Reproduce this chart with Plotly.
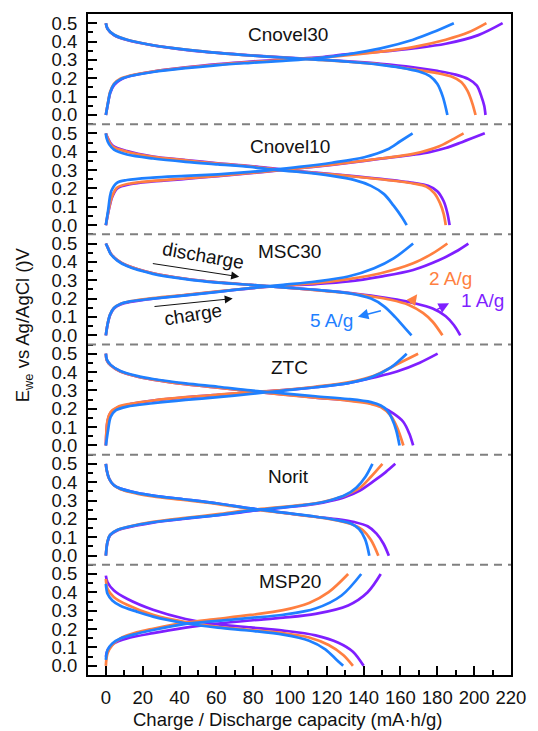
import plotly.graph_objects as go

# ---------------- data (capacity q in mA·h/g, potential v in V) ----------------
panel_names = ["Cnovel30", "Cnovel10", "MSC30", "ZTC", "Norit", "MSP20"]
panel_offsets = [3.0, 2.4, 1.8, 1.2, 0.6, 0.0]
rate_names = ["1 A/g", "2 A/g", "5 A/g"]
rate_colors = ["#7f1fff", "#ff7f40", "#1f80ff"]

x_tickvals = [0, 20, 40, 60, 80, 100, 120, 140, 160, 180, 200, 220]
y_ticktext = ["0.0", "0.1", "0.2", "0.3", "0.4", "0.5"]
y_tick_steps = [0.0, 0.1, 0.2, 0.3, 0.4, 0.5]

# Cnovel30
c30_ch_1A_q = [0, 1.2, 2.3, 4.4, 7.9, 13.2, 25.6, 43.3, 61, 78.6, 96.3, 114, 131.6, 149.3, 166.9, 184.6, 202.3, 215.5]
c30_ch_1A_v = [0, 0.065, 0.118, 0.163, 0.192, 0.212, 0.236, 0.259, 0.277, 0.291, 0.302, 0.313, 0.331, 0.345, 0.363, 0.388, 0.435, 0.5]
c30_ch_2A_q = [0, 1.2, 2.3, 4.4, 7.9, 13.2, 25.6, 43.3, 61, 78.6, 96.3, 114, 131.6, 149.3, 166.9, 184.6, 197, 206.7]
c30_ch_2A_v = [0, 0.07, 0.125, 0.17, 0.197, 0.215, 0.237, 0.258, 0.275, 0.288, 0.299, 0.31, 0.326, 0.345, 0.37, 0.41, 0.45, 0.5]
c30_ch_5A_q = [0, 1.2, 2.3, 4.4, 7.9, 13.2, 25.6, 43.3, 61, 78.6, 96.3, 114, 131.6, 149.3, 166.9, 177.5, 189]
c30_ch_5A_v = [0, 0.068, 0.122, 0.167, 0.194, 0.212, 0.234, 0.255, 0.272, 0.284, 0.295, 0.308, 0.331, 0.363, 0.41, 0.45, 0.5]
c30_dis_1A_q = [0, 0.9, 4.4, 11.5, 25.6, 43.3, 61, 78.6, 96.3, 114, 131.6, 149.3, 166.9, 180, 190, 197, 201.5, 204, 205.5, 206.2]
c30_dis_1A_v = [0.5, 0.47, 0.435, 0.408, 0.379, 0.355, 0.338, 0.325, 0.314, 0.304, 0.292, 0.279, 0.26, 0.24, 0.22, 0.195, 0.16, 0.1, 0.05, 0]
c30_dis_2A_q = [0, 0.9, 4.4, 11.5, 25.6, 43.3, 61, 78.6, 96.3, 114, 131.6, 149.3, 166.9, 180, 188, 193, 196.5, 199, 200.8]
c30_dis_2A_v = [0.5, 0.47, 0.437, 0.41, 0.38, 0.356, 0.338, 0.324, 0.313, 0.302, 0.29, 0.275, 0.248, 0.228, 0.208, 0.18, 0.13, 0.065, 0]
c30_dis_5A_q = [0, 0.9, 4.4, 11.5, 25.6, 43.3, 61, 78.6, 96.3, 114, 131.6, 149.3, 160, 170, 176, 180, 183, 185.5]
c30_dis_5A_v = [0.5, 0.47, 0.437, 0.41, 0.38, 0.356, 0.338, 0.324, 0.313, 0.302, 0.29, 0.273, 0.258, 0.237, 0.212, 0.17, 0.1, 0]

# Cnovel10
c10_ch_1A_q = [0, 1.8, 3.5, 6.2, 13.2, 25.6, 43.3, 60.9, 78.6, 96.3, 113.9, 131.6, 149.3, 166.9, 175.8, 184.6, 193.4, 205.8]
c10_ch_1A_v = [0, 0.092, 0.155, 0.2, 0.223, 0.238, 0.252, 0.267, 0.283, 0.301, 0.319, 0.339, 0.362, 0.384, 0.398, 0.42, 0.452, 0.5]
c10_ch_2A_q = [0, 1.8, 3.5, 6.2, 13.2, 25.6, 43.3, 60.9, 78.6, 96.3, 113.9, 131.6, 149.3, 166.9, 181.1, 188.1, 194.3]
c10_ch_2A_v = [0, 0.097, 0.16, 0.205, 0.227, 0.241, 0.254, 0.268, 0.284, 0.302, 0.32, 0.34, 0.363, 0.388, 0.43, 0.466, 0.5]
c10_ch_5A_q = [0, 1.2, 3, 6.2, 11.5, 25.6, 43.3, 60.9, 78.6, 89.2, 105.1, 122.8, 140.4, 152.8, 159.9, 166.6]
c10_ch_5A_v = [0, 0.079, 0.187, 0.232, 0.246, 0.259, 0.268, 0.277, 0.29, 0.3, 0.317, 0.34, 0.37, 0.412, 0.457, 0.5]
c10_dis_1A_q = [0, 0.9, 3.5, 11.5, 25.6, 43.3, 60.9, 78.6, 96.3, 113.9, 131.6, 149.3, 166.9, 175, 180, 183.5, 185.5, 186.7]
c10_dis_1A_v = [0.5, 0.478, 0.435, 0.403, 0.374, 0.355, 0.337, 0.322, 0.302, 0.286, 0.27, 0.252, 0.23, 0.214, 0.185, 0.13, 0.065, 0]
c10_dis_2A_q = [0, 0.9, 3.5, 11.5, 25.6, 43.3, 60.9, 78.6, 96.3, 113.9, 131.6, 149.3, 166.9, 174, 178.4, 181.5, 183.5, 184.6]
c10_dis_2A_v = [0.5, 0.475, 0.43, 0.4, 0.372, 0.353, 0.335, 0.32, 0.3, 0.284, 0.268, 0.25, 0.227, 0.21, 0.175, 0.12, 0.06, 0]
c10_dis_5A_q = [0, 0.35, 1.8, 4.4, 11.5, 25.6, 43.3, 60.9, 78.6, 89.2, 105.1, 122.8, 135.2, 144, 151.1, 156.3, 160.8, 163.4]
c10_dis_5A_v = [0.5, 0.475, 0.44, 0.412, 0.385, 0.363, 0.345, 0.331, 0.317, 0.304, 0.29, 0.268, 0.245, 0.214, 0.169, 0.106, 0.043, 0]

# MSC30
msc_ch_1A_q = [0, 0.9, 2.3, 4.4, 7.9, 13.2, 25.6, 43.3, 60.9, 78.6, 96.3, 113.9, 131.6, 149.3, 166.9, 181.1, 189.9, 196.9]
msc_ch_1A_v = [0, 0.057, 0.11, 0.146, 0.168, 0.182, 0.2, 0.219, 0.238, 0.256, 0.27, 0.279, 0.293, 0.32, 0.356, 0.41, 0.455, 0.5]
msc_ch_2A_q = [0, 0.9, 2.3, 4.4, 7.9, 13.2, 25.6, 43.3, 60.9, 78.6, 96.3, 113.9, 131.6, 149.3, 166.9, 177.5, 185.5]
msc_ch_2A_v = [0, 0.059, 0.113, 0.149, 0.171, 0.185, 0.203, 0.221, 0.239, 0.257, 0.272, 0.284, 0.306, 0.338, 0.392, 0.446, 0.5]
msc_ch_5A_q = [0, 0.9, 2.3, 4.4, 7.9, 13.2, 25.6, 43.3, 60.9, 78.6, 96.3, 113.9, 131.6, 145.7, 156.3, 166.9]
msc_ch_5A_v = [0, 0.059, 0.113, 0.149, 0.171, 0.185, 0.2, 0.218, 0.237, 0.257, 0.275, 0.293, 0.32, 0.365, 0.419, 0.5]
msc_dis_1A_q = [0, 0.9, 2.6, 6.2, 11.5, 25.6, 43.3, 60.9, 78.6, 96.3, 113.9, 131.6, 144, 158.1, 166.9, 177.5, 184.6, 189, 192.5]
msc_dis_1A_v = [0.5, 0.482, 0.446, 0.41, 0.38, 0.338, 0.308, 0.288, 0.275, 0.261, 0.247, 0.232, 0.216, 0.194, 0.176, 0.146, 0.104, 0.056, 0]
msc_dis_2A_q = [0, 0.9, 2.6, 6.2, 11.5, 25.6, 43.3, 60.9, 78.6, 96.3, 113.9, 131.6, 144, 154.6, 164.3, 172.2, 177.5, 182.8]
msc_dis_2A_v = [0.5, 0.482, 0.446, 0.41, 0.38, 0.338, 0.308, 0.288, 0.275, 0.261, 0.246, 0.23, 0.212, 0.194, 0.167, 0.122, 0.074, 0]
msc_dis_5A_q = [0, 0.9, 2.6, 6.2, 11.5, 25.6, 43.3, 60.9, 78.6, 96.3, 113.9, 131.6, 144, 151.1, 157.2, 162, 166]
msc_dis_5A_v = [0.5, 0.48, 0.443, 0.407, 0.377, 0.335, 0.306, 0.287, 0.275, 0.261, 0.248, 0.23, 0.2, 0.158, 0.099, 0.045, 0]

# ZTC
ztc_ch_1A_q = [0, 0.9, 2.6, 6.2, 13.2, 25.6, 43.3, 60.9, 78.6, 96.3, 113.9, 131.6, 145.7, 158.1, 170.5, 180.2]
ztc_ch_1A_v = [0, 0.13, 0.178, 0.206, 0.225, 0.244, 0.262, 0.276, 0.289, 0.301, 0.318, 0.34, 0.371, 0.403, 0.451, 0.5]
ztc_ch_2A_q = [0, 0.9, 2.6, 6.2, 13.2, 25.6, 43.3, 60.9, 78.6, 96.3, 113.9, 131.6, 145.7, 158.1, 169.6]
ztc_ch_2A_v = [0, 0.137, 0.182, 0.209, 0.227, 0.245, 0.263, 0.277, 0.29, 0.302, 0.32, 0.344, 0.38, 0.442, 0.5]
ztc_ch_5A_q = [0, 1.2, 2.6, 5.3, 11.5, 25.6, 43.3, 60.9, 78.6, 96.3, 113.9, 131.6, 144, 154.6, 163.4]
ztc_ch_5A_v = [0, 0.083, 0.155, 0.191, 0.212, 0.23, 0.248, 0.263, 0.281, 0.299, 0.317, 0.34, 0.371, 0.424, 0.5]
ztc_dis_1A_q = [0, 0.5, 2.6, 7.9, 16.8, 25.6, 43.3, 60.9, 78.6, 96.3, 113.9, 131.6, 144, 149.3, 156.3, 161.6, 164.8, 166.9]
ztc_dis_1A_v = [0.5, 0.465, 0.437, 0.403, 0.376, 0.359, 0.334, 0.315, 0.295, 0.278, 0.261, 0.246, 0.23, 0.212, 0.173, 0.128, 0.065, 0]
ztc_dis_2A_q = [0, 0.5, 2.6, 7.9, 16.8, 25.6, 43.3, 60.9, 78.6, 96.3, 113.9, 131.6, 144, 149.3, 154.6, 158.1, 161.6]
ztc_dis_2A_v = [0.5, 0.465, 0.437, 0.403, 0.376, 0.359, 0.334, 0.315, 0.295, 0.277, 0.26, 0.244, 0.226, 0.209, 0.164, 0.1, 0]
ztc_dis_5A_q = [0, 0.5, 2.6, 7.9, 16.8, 25.6, 43.3, 60.9, 78.6, 96.3, 113.9, 131.6, 144, 149.3, 152.8, 155.4, 157.7, 159.5]
ztc_dis_5A_v = [0.5, 0.469, 0.439, 0.406, 0.379, 0.362, 0.338, 0.32, 0.3, 0.284, 0.268, 0.253, 0.236, 0.218, 0.191, 0.146, 0.083, 0]

# Norit
nor_ch_1A_q = [0, 0.9, 2.3, 6.2, 16.8, 25.6, 43.3, 60.9, 78.6, 96.3, 113.9, 122, 130, 138, 146, 152, 157.2]
nor_ch_1A_v = [0, 0.074, 0.11, 0.137, 0.164, 0.18, 0.201, 0.22, 0.243, 0.262, 0.282, 0.298, 0.32, 0.355, 0.41, 0.455, 0.5]
nor_ch_2A_q = [0, 0.9, 2.3, 6.2, 16.8, 25.6, 43.3, 60.9, 78.6, 96.3, 113.9, 122, 130, 138, 144, 150.2]
nor_ch_2A_v = [0, 0.077, 0.113, 0.14, 0.168, 0.184, 0.206, 0.226, 0.249, 0.266, 0.285, 0.303, 0.328, 0.37, 0.43, 0.5]
nor_ch_5A_q = [0, 0.9, 2.3, 6.2, 16.8, 25.6, 43.3, 60.9, 78.6, 96.3, 113.9, 122, 130, 136, 141, 144.8]
nor_ch_5A_v = [0, 0.077, 0.113, 0.14, 0.167, 0.182, 0.203, 0.221, 0.245, 0.263, 0.284, 0.302, 0.33, 0.37, 0.43, 0.5]
nor_dis_1A_q = [0, 0.5, 1.8, 4.4, 7.9, 16.8, 25.6, 43.3, 60.9, 78.6, 96.3, 113.9, 126.3, 135, 142.2, 147, 150.8, 153.7]
nor_dis_1A_v = [0.5, 0.464, 0.419, 0.383, 0.365, 0.342, 0.327, 0.306, 0.284, 0.257, 0.234, 0.212, 0.198, 0.183, 0.16, 0.12, 0.065, 0]
nor_dis_2A_q = [0, 0.5, 1.8, 4.4, 7.9, 16.8, 25.6, 43.3, 60.9, 78.6, 96.3, 113.9, 126.3, 134, 139.5, 144, 148]
nor_dis_2A_v = [0.5, 0.464, 0.419, 0.383, 0.362, 0.338, 0.322, 0.302, 0.281, 0.255, 0.233, 0.211, 0.19, 0.17, 0.14, 0.085, 0]
nor_dis_5A_q = [0, 0.5, 1.8, 4.4, 7.9, 16.8, 25.6, 43.3, 60.9, 78.6, 96.3, 113.9, 126.3, 133, 137.5, 140.8, 143.1]
nor_dis_5A_v = [0.5, 0.464, 0.419, 0.383, 0.365, 0.342, 0.327, 0.306, 0.284, 0.257, 0.234, 0.212, 0.192, 0.175, 0.145, 0.09, 0]

# MSP20
msp_ch_1A_q = [0, 1.2, 4.4, 11.5, 25.6, 43.3, 60.9, 78.6, 96.3, 113.9, 131.6, 142.2, 149.3]
msp_ch_1A_v = [0.05, 0.09, 0.122, 0.149, 0.178, 0.208, 0.23, 0.247, 0.262, 0.283, 0.329, 0.401, 0.5]
msp_ch_2A_q = [0, 0.9, 3.5, 7.9, 16.8, 25.6, 43.3, 60.9, 78.6, 96.3, 110.4, 121, 131.6]
msp_ch_2A_v = [0, 0.068, 0.113, 0.149, 0.182, 0.202, 0.236, 0.256, 0.277, 0.303, 0.342, 0.401, 0.5]
msp_ch_5A_q = [0, 0.9, 3.5, 7.9, 16.8, 25.6, 43.3, 60.9, 78.6, 96.3, 113.9, 128, 138.7]
msp_ch_5A_v = [0.032, 0.086, 0.122, 0.149, 0.175, 0.195, 0.228, 0.245, 0.261, 0.278, 0.312, 0.383, 0.5]
msp_dis_1A_q = [0, 0.9, 4.4, 11.5, 25.6, 43.3, 60.9, 78.6, 96.3, 113.9, 126.3, 134.2, 140]
msp_dis_1A_v = [0.491, 0.455, 0.41, 0.365, 0.305, 0.255, 0.226, 0.209, 0.192, 0.166, 0.126, 0.077, 0]
msp_dis_2A_q = [0, 0.9, 4.4, 11.5, 25.6, 43.3, 60.9, 78.6, 96.3, 110.4, 121, 128.9, 134.2]
msp_dis_2A_v = [0.473, 0.419, 0.374, 0.333, 0.278, 0.238, 0.212, 0.195, 0.178, 0.154, 0.113, 0.059, 0]
msp_dis_5A_q = [0, 0.9, 3.5, 7.9, 16.8, 25.6, 43.3, 60.9, 78.6, 96.3, 110.4, 119.2, 125.4, 128.9]
msp_dis_5A_v = [0.446, 0.392, 0.356, 0.327, 0.295, 0.268, 0.232, 0.208, 0.191, 0.17, 0.137, 0.09, 0.032, 0]

# table the plot is built from: panel -> rate -> (charge q, charge v, discharge q, discharge v)
panels = [
    [(c30_ch_1A_q, c30_ch_1A_v, c30_dis_1A_q, c30_dis_1A_v),
     (c30_ch_2A_q, c30_ch_2A_v, c30_dis_2A_q, c30_dis_2A_v),
     (c30_ch_5A_q, c30_ch_5A_v, c30_dis_5A_q, c30_dis_5A_v)],
    [(c10_ch_1A_q, c10_ch_1A_v, c10_dis_1A_q, c10_dis_1A_v),
     (c10_ch_2A_q, c10_ch_2A_v, c10_dis_2A_q, c10_dis_2A_v),
     (c10_ch_5A_q, c10_ch_5A_v, c10_dis_5A_q, c10_dis_5A_v)],
    [(msc_ch_1A_q, msc_ch_1A_v, msc_dis_1A_q, msc_dis_1A_v),
     (msc_ch_2A_q, msc_ch_2A_v, msc_dis_2A_q, msc_dis_2A_v),
     (msc_ch_5A_q, msc_ch_5A_v, msc_dis_5A_q, msc_dis_5A_v)],
    [(ztc_ch_1A_q, ztc_ch_1A_v, ztc_dis_1A_q, ztc_dis_1A_v),
     (ztc_ch_2A_q, ztc_ch_2A_v, ztc_dis_2A_q, ztc_dis_2A_v),
     (ztc_ch_5A_q, ztc_ch_5A_v, ztc_dis_5A_q, ztc_dis_5A_v)],
    [(nor_ch_1A_q, nor_ch_1A_v, nor_dis_1A_q, nor_dis_1A_v),
     (nor_ch_2A_q, nor_ch_2A_v, nor_dis_2A_q, nor_dis_2A_v),
     (nor_ch_5A_q, nor_ch_5A_v, nor_dis_5A_q, nor_dis_5A_v)],
    [(msp_ch_1A_q, msp_ch_1A_v, msp_dis_1A_q, msp_dis_1A_v),
     (msp_ch_2A_q, msp_ch_2A_v, msp_dis_2A_q, msp_dis_2A_v),
     (msp_ch_5A_q, msp_ch_5A_v, msp_dis_5A_q, msp_dis_5A_v)],
]
panel_label_pos = [(99, 0.44), (100, 0.43), (100, 0.455), (100, 0.425), (99, 0.43), (100, 0.46)]

FONT = "Liberation Sans, Arial, sans-serif"
fig = go.Figure()

for p, rates in enumerate(panels):
    off = panel_offsets[p]
    for r, (cq, cv, dq, dv) in enumerate(rates):
        for qq, vv in ((cq, cv), (dq, dv)):
            fig.add_trace(go.Scatter(
                x=qq, y=[v + off for v in vv], mode="lines",
                line=dict(color=rate_colors[r], width=2.7, shape="spline", smoothing=0.9),
                showlegend=False, hoverinfo="skip"))

# ticks
y_tickvals, y_ticklabels, y_minor = [], [], []
for off in panel_offsets:
    for s, t in zip(y_tick_steps, y_ticktext):
        y_tickvals.append(off + s)
        y_ticklabels.append(t)
    for s in y_tick_steps:
        y_minor.append(off + s + 0.05)

shapes = []
for off in panel_offsets[:-1]:
    shapes.append(dict(type="line", xref="paper", x0=0, x1=1, yref="y",
                       y0=off - 0.05, y1=off - 0.05,
                       line=dict(color="#808080", width=2, dash="8px,6px")))

annotations = []
for name, off, (lx, ly) in zip(panel_names, panel_offsets, panel_label_pos):
    annotations.append(dict(x=lx, y=off + ly, xref="x", yref="y", text=name, showarrow=False,
                            font=dict(family=FONT, size=19, color="#111111")))

msc = panel_offsets[2]
# charge / discharge labels + arrows
annotations += [
    dict(x=52.5, y=msc + 0.434, xref="x", yref="y", text="discharge", textangle=10,
         showarrow=False, font=dict(family=FONT, size=19, color="#111111")),
    dict(x=47.2, y=msc + 0.114, xref="x", yref="y", text="charge", textangle=-9,
         showarrow=False, font=dict(family=FONT, size=19, color="#111111")),
    dict(x=72.4, y=msc + 0.319, ax=24.7, ay=msc + 0.392, xref="x", yref="y", axref="x", ayref="y",
         text="", showarrow=True, arrowhead=2, arrowsize=1.6, arrowwidth=1, arrowcolor="#111111"),
    dict(x=68.9, y=msc + 0.2, ax=25.6, ay=msc + 0.156, xref="x", yref="y", axref="x", ayref="y",
         text="", showarrow=True, arrowhead=2, arrowsize=1.6, arrowwidth=1, arrowcolor="#111111"),
]
rate_label_pos = [(204.5, 0.188), (187, 0.31), (122.3, 0.08)]
rate_arrow_head = [(186.4, 0.174), (169.1, 0.223), (136.9, 0.101)]
rate_arrow_tail = [(179, 0.136), (164.8, 0.165), (150.2, 0.136)]
for r in range(3):
    lx, ly = rate_label_pos[r]
    annotations.append(dict(x=lx, y=msc + ly, xref="x", yref="y", text=rate_names[r], showarrow=False,
                            font=dict(family=FONT, size=19, color=rate_colors[r])))
    hx, hy = rate_arrow_head[r]
    tx, ty = rate_arrow_tail[r]
    annotations.append(dict(x=hx, y=msc + hy, ax=tx, ay=msc + ty, xref="x", yref="y", axref="x", ayref="y",
                            text="", showarrow=True, arrowhead=2, arrowsize=1.4, arrowwidth=1.5,
                            arrowcolor=rate_colors[r]))

# axis titles
annotations.append(dict(x=98.4, y=-0.0666, xref="x", yref="paper", yanchor="middle",
                        text="Charge / Discharge capacity (mA·h/g)", showarrow=False,
                        font=dict(family=FONT, size=18.5, color="#111111")))
annotations.append(dict(x=-0.152, y=0.53, xref="paper", yref="paper", xanchor="center", yanchor="middle",
                        text="E<sub>we</sub> vs Ag/AgCl ()V", textangle=-90, showarrow=False,
                        font=dict(family=FONT, size=18.5, color="#111111")))

fig.update_layout(
    width=538, height=731, autosize=False,
    margin=dict(l=88, r=17, t=14, b=56),
    plot_bgcolor="white", paper_bgcolor="white",
    shapes=shapes, annotations=annotations,
    xaxis=dict(range=[-9.7, 220.05], tickvals=x_tickvals, ticktext=[str(v) for v in x_tickvals],
               ticks="inside", ticklen=9, tickwidth=1.8, tickcolor="black",
               showline=True, linewidth=2, linecolor="black", mirror=True,
               showgrid=False, zeroline=False, ticklabelstandoff=5,
               tickfont=dict(family=FONT, size=18.5, color="#111111"),
               minor=dict(tickvals=[v + 10 for v in x_tickvals[:-1]], ticks="inside",
                          ticklen=5, tickwidth=1.8, tickcolor="black", showgrid=False)),
    yaxis=dict(range=[-0.05, 3.55], tickvals=y_tickvals, ticktext=y_ticklabels,
               ticks="inside", ticklen=9, tickwidth=1.8, tickcolor="black",
               showline=True, linewidth=2, linecolor="black", mirror=True,
               showgrid=False, zeroline=False, ticklabelstandoff=5,
               tickfont=dict(family=FONT, size=18.5, color="#111111"),
               minor=dict(tickvals=y_minor, ticks="inside", ticklen=5, tickwidth=1.8,
                          tickcolor="black", showgrid=False)),
)

fig.write_html("out.html")
